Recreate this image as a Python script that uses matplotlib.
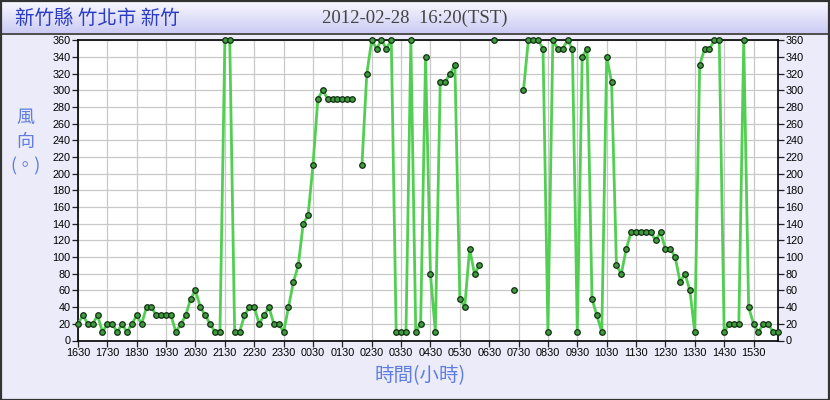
import numpy as np
import matplotlib
matplotlib.use("Agg")
import matplotlib.pyplot as plt
from matplotlib.patches import Rectangle

nan = np.nan
# wind direction every 10 minutes from 16:30 to 16:20 next day
wind_dir = [
    20, 30, 20, 20, 30, 10, 20, 20, 10, 20, 10, 20,          # 1630-1820
    30, 20, 40, 40, 30, 30, 30, 30, 10, 20, 30, 50,          # 1830-2020
    60, 40, 30, 20, 10, 10, 360, 360, 10, 10, 30, 40,        # 2030-2220
    40, 20, 30, 40, 20, 20, 10, 40, 70, 90, 140, 150,        # 2230-0020
    210, 290, 300, 290, 290, 290, 290, 290, 290, nan, 210, 320,  # 0030-0220
    360, 350, 360, 350, 360, 10, 10, 10, 360, 10, 20, 340,   # 0230-0420
    80, 10, 310, 310, 320, 330, 50, 40, 110, 80, 90, nan,    # 0430-0620
    nan, 360, nan, nan, nan, 60, nan, 300, 360, 360, 360, 350,  # 0630-0820
    10, 360, 350, 350, 360, 350, 10, 340, 350, 50, 30, 10,   # 0830-1020
    340, 310, 90, 80, 110, 130, 130, 130, 130, 130, 120, 130,  # 1030-1220
    110, 110, 100, 70, 80, 60, 10, 330, 350, 350, 360, 360,  # 1230-1420
    10, 20, 20, 20, 360, 40, 20, 10, 20, 20, 10, 10,         # 1430-1620
]
hour_labels = ["1630", "1730", "1830", "1930", "2030", "2130", "2230", "2330",
               "0030", "0130", "0230", "0330", "0430", "0530", "0630", "0730",
               "0830", "0930", "1030", "1130", "1230", "1330", "1430", "1530"]
y_ticks = list(range(0, 361, 20))

title_left = "新竹縣 竹北市 新竹"
title_mid = "2012-02-28  16:20(TST)"
y_label_chars = ["風", "向", "(。)"]
x_label = "時間(小時)"

cjk = ["Noto Sans CJK TC", "DejaVu Sans"]
W, H = 830, 400
fig = plt.figure(figsize=(W / 100, H / 100), dpi=100)
fig.patch.set_facecolor("#ebebfa")

# title bar gradient
bar = fig.add_axes([0, 1 - 33 / H, 1, 33 / H])
grad = np.linspace(0, 1, 64).reshape(-1, 1)
top_c = np.array([0.98, 0.98, 1.0])
bot_c = np.array([0.80, 0.80, 0.96])
img = top_c[None, None, :] * (1 - grad[:, :, None]) + bot_c[None, None, :] * grad[:, :, None]
bar.imshow(img, aspect="auto", extent=[0, 1, 0, 1])
bar.set_xlim(0, 1)
bar.set_ylim(0, 1)
bar.axis("off")
fig.add_artist(plt.Line2D([0, 1], [1 - 33.5 / H, 1 - 33.5 / H], color="#333333", lw=1.2,
                          transform=fig.transFigure))

fig.text(15 / W, 1 - 18 / H, title_left, family=cjk, fontsize=14, color="#2b3cc4",
         va="center", ha="left", fontweight="light")
fig.text(415 / W, 1 - 18 / H, title_mid, family=["Liberation Serif"], fontsize=13.5,
         color="#444444", va="center", ha="center")

# main axes
L, R, T, B = 78, 778, 40.3, 340.5
ax = fig.add_axes([L / W, 1 - B / H, (R - L) / W, (B - T) / H])
ax.set_facecolor("white")
x = np.arange(len(wind_dir))
y = np.array(wind_dir, dtype=float)
ax.plot(x, y, color="#52cf52", lw=2.0, zorder=3, solid_joinstyle="round")
ax.plot(x, y, ls="none", marker="o", ms=4.0, mfc="#3f9a3f", mec="#123012", mew=0.9,
        zorder=4, clip_on=False)

ax.set_xlim(0, len(wind_dir) - 1)
ax.set_ylim(0, 360)
ax.set_xticks(np.arange(0, 24) * 6)
ax.set_xticklabels(hour_labels)
ax.set_yticks(y_ticks)
ax.grid(True, color="#c8c8c8", lw=0.9)
ax.set_axisbelow(True)
for s in ax.spines.values():
    s.set_color("black")
    s.set_linewidth(1.2)
ax.tick_params(axis="both", labelsize=7.8, length=4, width=0.9, color="#222222", pad=1.5)
ax.tick_params(axis="y", right=True, labelright=True)
for lab in ax.get_xticklabels() + ax.get_yticklabels():
    lab.set_family("Liberation Sans")
for t in ax.yaxis.get_major_ticks():
    t.label2.set_family("Liberation Sans")
    t.label2.set_fontsize(7.8)

# y label stacked
for i, ch in enumerate(y_label_chars):
    fig.text(25 / W, 1 - (118 + i * 24) / H, ch, family=cjk, fontsize=13, color="#5f7de0",
             ha="center", va="center")
fig.text(420 / W, 1 - 376 / H, x_label, family=cjk, fontsize=14, color="#5f7de0",
         ha="center", va="center")

# outer border
fig.add_artist(Rectangle((0.5 / W, 0.5 / H), 1 - 1.5 / W, 1 - 1.5 / H, fill=False,
                         ec="#333333", lw=1.6, transform=fig.transFigure))

fig.savefig("out.png", dpi=100, facecolor=fig.get_facecolor())
